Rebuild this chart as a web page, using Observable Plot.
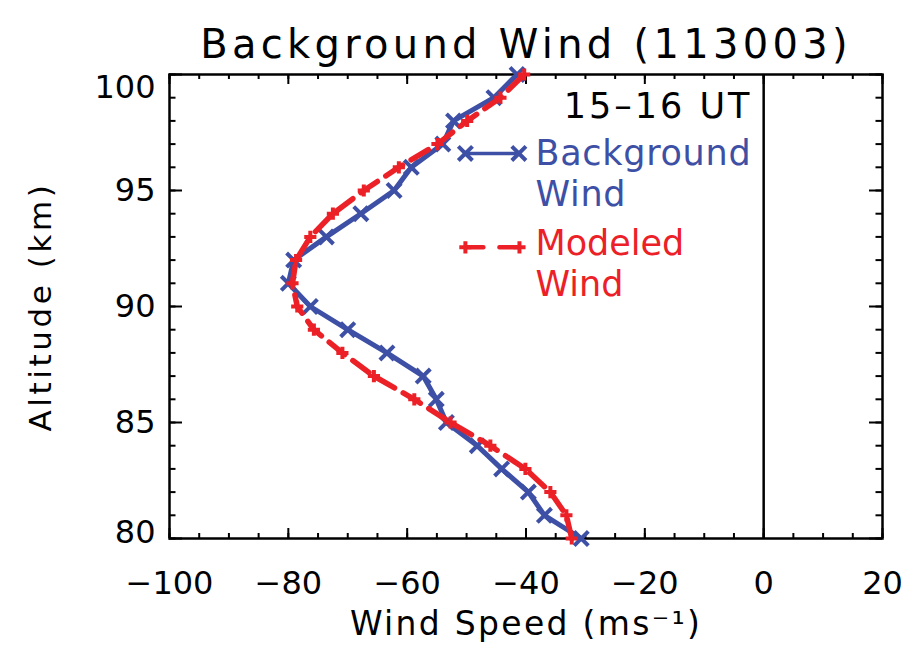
<!DOCTYPE html>
<html><head><meta charset="utf-8">
<script src="https://cdn.jsdelivr.net/npm/d3@7"></script>
<script src="https://cdn.jsdelivr.net/npm/@observablehq/plot@0.6"></script>
<style>
body{margin:0;background:#fff;}
#chart svg{background:#fff;}
</style>
</head><body><div id="chart"></div>
<script>
// ---- data ----
const altitudes = [80,81,82,83,84,85,86,87,88,89,90,91,92,93,94,95,96,97,98,99,100];
const backgroundWind = [-30.7,-36.9,-39.6,-44.1,-48.2,-53.4,-55.1,-57.3,-63.4,-70.0,-76.3,-80.0,-79.1,-73.6,-67.8,-62.2,-59.3,-54.0,-52.2,-45.4,-41.5];
const modeledWind = [-32.3,-33.2,-35.9,-40.1,-46.0,-52.7,-58.8,-65.6,-70.9,-75.7,-78.5,-79.3,-78.7,-76.3,-72.5,-67.3,-61.4,-54.9,-49.9,-44.3,-40.3];
const xTicks = [-100,-80,-60,-40,-20,0,20];
const yTicks = [80,85,90,95,100];
const seriesNames = ["Background\nWind", "Modeled\nWind"];
const titleText = "Background Wind (113003)";
const timeLabel = "15–16 UT";
const xLabel = "Wind Speed (ms⁻¹)";
const yLabel = "Altitude (km)";

// ---- build tables ----
const bg = altitudes.map((a,i)=>({alt:a, wind:backgroundWind[i]}));
const md = altitudes.map((a,i)=>({alt:a, wind:modeledWind[i]}));
const xMinor = d3.range(-100, 20.001, 5);
const yMinor = d3.range(80, 100.001, 1);

const W = 908, H = 650, mL = 169, mR = 26, mT = 74, mB = 112;
const pw = W - mL - mR, ph = H - mT - mB;
const BLUE = "#3D50A5", RED = "#EC2127";
const FONT = "DejaVu Sans";

// legend sample positions (data space)
const legBlue = [{x:-50.2,y:96.6},{x:-41.2,y:96.6}];
const legRed  = [{x:-50.2,y:92.55},{x:-41.1,y:92.55}];

const plot = Plot.plot({
  width: W, height: H,
  marginLeft: mL, marginRight: mR, marginTop: mT, marginBottom: mB,
  style: {fontFamily: FONT, fontSize: "32px", color: "#000", background: "#fff"},
  x: {domain: [-100, 20]},
  y: {domain: [80, 100]},
  marks: [
    // axis labels
    Plot.axisX(xTicks, {tickSize: 0, tickPadding: 33, fontSize: 32, label: null}),
    Plot.axisY([85,90,95], {tickSize: 0, tickPadding: 14, fontSize: 32, label: null}),
    Plot.text([100], {y: d=>d, text: d=>String(d), frameAnchor: "left", textAnchor: "end", dx: -14, dy: 13, fontSize: 32}),
    Plot.text([80], {y: d=>d, text: d=>String(d), frameAnchor: "left", textAnchor: "end", dx: -14, dy: -6, fontSize: 32}),
    // ticks (inward)
    Plot.tickX(xTicks, {x: d=>d, insetTop: ph - 10, strokeWidth: 2}),
    Plot.tickX(xTicks, {x: d=>d, insetBottom: ph - 10, strokeWidth: 2}),
    Plot.tickX(xMinor, {x: d=>d, insetTop: ph - 5, strokeWidth: 2}),
    Plot.tickX(xMinor, {x: d=>d, insetBottom: ph - 5, strokeWidth: 2}),
    Plot.tickY(yTicks, {y: d=>d, insetRight: pw - 13, strokeWidth: 2}),
    Plot.tickY(yTicks, {y: d=>d, insetLeft: pw - 13, strokeWidth: 2}),
    Plot.tickY(yMinor, {y: d=>d, insetRight: pw - 6.5, strokeWidth: 2}),
    Plot.tickY(yMinor, {y: d=>d, insetLeft: pw - 6.5, strokeWidth: 2}),
    Plot.ruleX([0], {x: d=>d, strokeWidth: 2.5}),
    Plot.frame({strokeWidth: 2.5}),
    // data
    Plot.line(bg, {x: "wind", y: "alt", stroke: BLUE, strokeWidth: 5}),
    Plot.dot(bg, {x: "wind", y: "alt", symbol: "times", r: 6.5, stroke: BLUE, strokeWidth: 4}),
    Plot.line(md, {x: "wind", y: "alt", stroke: RED, strokeWidth: 5.5, strokeDasharray: "20,10"}),
    Plot.dot(md, {x: "wind", y: "alt", symbol: "plus", r: 4, stroke: RED, strokeWidth: 4}),
    // legend
    Plot.text([timeLabel], {text: d=>d, frameAnchor: "top-right", dx: -(W - mR - 752), dy: 19, textAnchor: "end", fontSize: 35, fill: "#000"}),
    Plot.line(legBlue, {x: "x", y: "y", stroke: BLUE, strokeWidth: 3.5}),
    Plot.dot(legBlue, {x: "x", y: "y", symbol: "times", r: 6.5, stroke: BLUE, strokeWidth: 4}),
    Plot.line(legRed, {x: "x", y: "y", stroke: RED, strokeWidth: 4.5, strokeDasharray: "18,16"}),
    Plot.dot(legRed, {x: "x", y: "y", symbol: "plus", r: 4, stroke: RED, strokeWidth: 4}),
    Plot.text([seriesNames[0]], {text: d=>d, frameAnchor: "top-left", dx: 535 - mL, dy: 61, textAnchor: "start", lineHeight: 1.17, fontSize: 35, fill: BLUE}),
    Plot.text([seriesNames[1]], {text: d=>d, frameAnchor: "top-left", dx: 535 - mL, dy: 151, textAnchor: "start", lineHeight: 1.17, fontSize: 35, fill: RED}),
    // titles
    Plot.text([titleText], {text: d=>d, frameAnchor: "top", dy: -45, fontSize: 40}),
    Plot.text([xLabel], {text: d=>d, frameAnchor: "bottom", dy: 96, fontSize: 33}),
    Plot.text([yLabel], {text: d=>d, frameAnchor: "left", textAnchor: "middle", dx: 41 - mL, rotate: -90, fontSize: 31})
  ]
});
document.getElementById("chart").appendChild(plot);
const svg = d3.select(plot);
function spacing(txt, px) {
  svg.selectAll("text").filter(function(){ return this.textContent === txt; }).style("letter-spacing", px);
}
spacing(titleText, "4.3px");
spacing(yLabel, "3.6px");
spacing(xLabel, "2.3px");
spacing(timeLabel, "3px");
spacing("BackgroundWind", "0.7px");
</script>
</body></html>
